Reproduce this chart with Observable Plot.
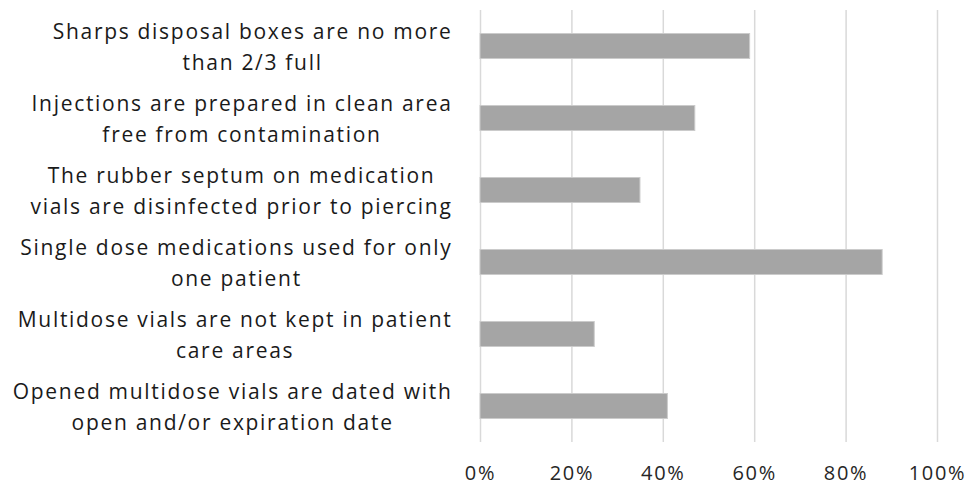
<!DOCTYPE html>
<html>
<head>
<meta charset="utf-8">
<script src="https://cdn.jsdelivr.net/npm/d3@7"></script>
<script src="https://cdn.jsdelivr.net/npm/@observablehq/plot@0.6"></script>
<style>
  html, body { margin: 0; padding: 0; background: #fff; }
</style>
</head>
<body>
<div id="chart"></div>
<script>
const categories = [
  "Sharps disposal boxes are no more\nthan 2/3 full",
  "Injections are prepared in clean area\nfree from contamination",
  "The rubber septum on medication\nvials are disinfected prior to piercing",
  "Single dose medications used for only\none patient",
  "Multidose vials are not kept in patient\ncare areas",
  "Opened multidose vials are dated with\nopen and/or expiration date"
];
const values = [0.59, 0.47, 0.35, 0.88, 0.25, 0.41];
const xTicks = [0, 0.2, 0.4, 0.6, 0.8, 1.0];

const data = categories.map((c, i) => ({category: c, value: values[i]}));

const plot = Plot.plot({
  width: 969,
  height: 485,
  marginTop: 10,
  marginBottom: 43,
  marginLeft: 480,
  marginRight: 32,
  style: {fontFamily: "'Open Sans', sans-serif", fontSize: "21px", color: "#262626", background: "#fff", letterSpacing: "1.7px"},
  x: {domain: [0, 1], ticks: xTicks},
  y: {domain: categories, padding: 0},
  marks: [
    Plot.gridX(xTicks, {stroke: "#d9d9d9", strokeOpacity: 1, strokeWidth: 1.5}),
    Plot.barX(data, {x: "value", y: "category", fill: "#a5a5a5", stroke: "#cbcbcb", strokeWidth: 1, insetTop: 23.5, insetBottom: 23.5}),
    Plot.axisX(xTicks, {tickSize: 0, tickPadding: 23, tickFormat: d3.format(".0%"), label: null, fill: "#262626", fontSize: 20}),
    Plot.axisY({tickSize: 0, tickPadding: 0, textAnchor: "middle", lineHeight: 1.5, label: null, fill: "#1a1a1a", fontSize: 21})
  ]
});

document.getElementById("chart").appendChild(plot);
plot.querySelectorAll('text').forEach(t => t.style.letterSpacing = "1.7px");

// Center each multi-line label as a block whose right edge sits a fixed gap left of the frame
const gap = 28;
plot.querySelectorAll('g[aria-label="y-axis tick label"] text').forEach(t => {
  const w = t.getBBox().width;
  const tr = t.getAttribute("transform") || "";
  t.setAttribute("transform", tr + ` translate(${-(gap + w / 2)},0) translate(0,-2)`);
});
</script>
</body>
</html>
